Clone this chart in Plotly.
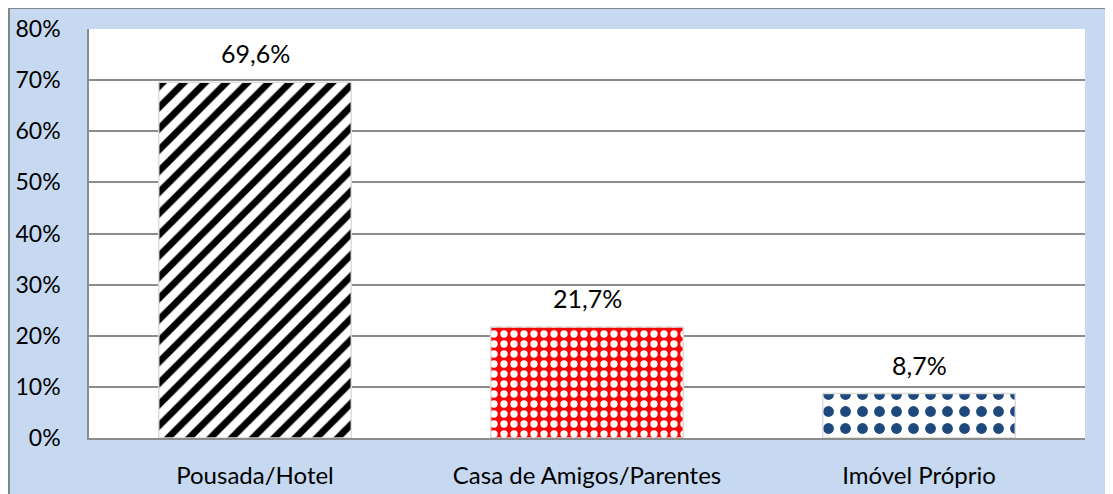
import plotly.graph_objects as go

categories = ["Pousada/Hotel", "Casa de Amigos/Parentes", "Imóvel Próprio"]
values = [0.696, 0.217, 0.087]
value_labels = ["69,6%", "21,7%", "8,7%"]

FONT = "Lato"

# pattern styling per bar (shape, foreground, background, size, solidity)
styles = [
    ("/", "#000000", "#ffffff", 15, 0.45),
    (".", "#ffffff", "#ff0000", 10, 0.42),
    (".", "#1f497d", "#ffffff", 17, 0.32),
]

fig = go.Figure()
for cat, val, (shp, fg, bg, sz, sol) in zip(categories, values, styles):
    fig.add_trace(go.Bar(
        x=[cat], y=[val],
        width=0.58,
        marker=dict(
            color=bg,
            line=dict(color="#dcdcdc", width=1.5),
            pattern=dict(shape=shp, fgcolor=fg, bgcolor=bg, fgopacity=1,
                         size=sz, solidity=sol, fillmode="replace"),
        ),
        hoverinfo="skip",
    ))

for cat, val, lab in zip(categories, values, value_labels):
    fig.add_annotation(x=cat, y=val, text=lab, showarrow=False,
                       xanchor="center", yanchor="bottom", yshift=12,
                       font=dict(family=FONT, size=25, color="#000000"))

W, H = 1113, 494
L, R, T, B = 81, 36, 21, 64
pw, ph = W - L - R, H - T - B

def px_x(p):
    return (p - L) / pw

def px_y(p):
    return (H - B - p) / ph

# outer light-blue chart area
fig.add_shape(type="rect", xref="paper", yref="paper",
              x0=px_x(1), x1=px_x(W + 20), y0=px_y(H + 20), y1=px_y(0),
              fillcolor="#c6d9f0", line=dict(color="#7f8690", width=2),
              layer="below")
# white plot area
fig.add_shape(type="rect", xref="paper", yref="paper",
              x0=0, x1=1, y0=0, y1=1,
              fillcolor="#ffffff", line=dict(width=0),
              layer="below")

fig.update_layout(
    width=W, height=H,
    margin=dict(l=L, r=R, t=T, b=B, autoexpand=False),
    paper_bgcolor="#ffffff",
    plot_bgcolor="#ffffff",
    barmode="overlay",
    showlegend=False,
    font=dict(family=FONT, size=18, color="#000000"),
    xaxis=dict(
        showgrid=False, automargin=False,
        showline=True, linecolor="#8c8c8c", linewidth=1.5,
        ticks="", ticklabelstandoff=15,
        tickfont=dict(family=FONT, size=24, color="#000000"),
        fixedrange=True,
    ),
    yaxis=dict(
        range=[0, 0.8], dtick=0.1, tickformat=".0%", automargin=False,
        showgrid=True, gridcolor="#8c8c8c", gridwidth=1.5,
        showline=True, linecolor="#8c8c8c", linewidth=1.5,
        zeroline=False,
        ticks="", ticklabelstandoff=22,
        tickfont=dict(family=FONT, size=23, color="#000000"),
        fixedrange=True,
    ),
)

fig.write_html("out.html")
